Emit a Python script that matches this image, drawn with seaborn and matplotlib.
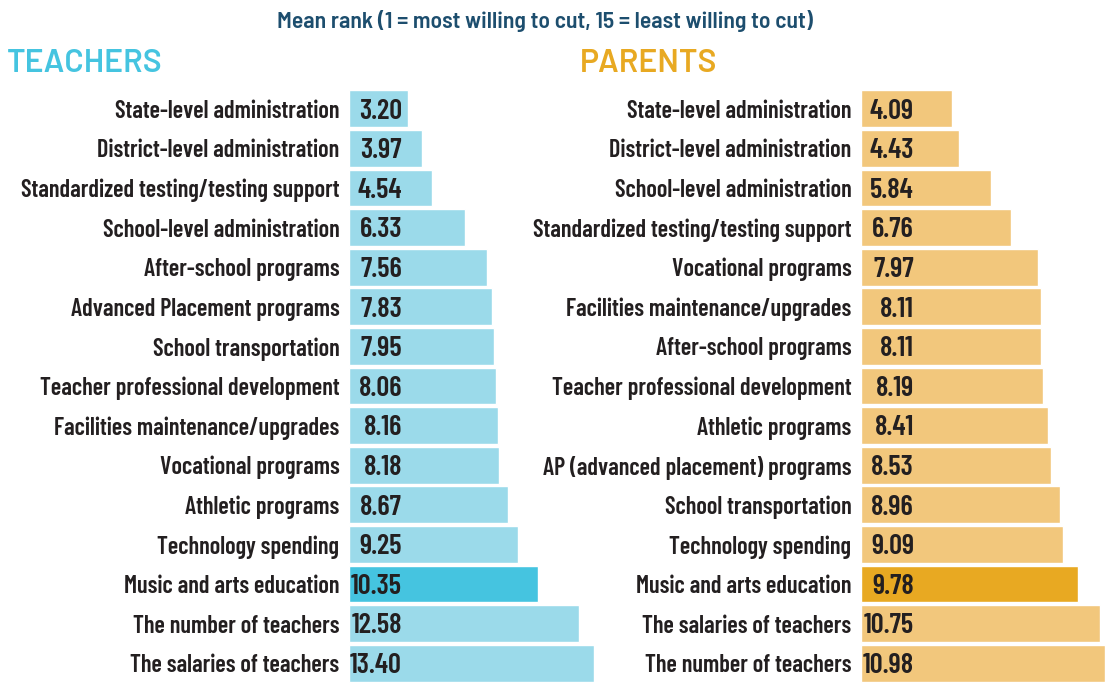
import matplotlib
matplotlib.use("Agg")
import matplotlib.pyplot as plt
import seaborn as sns
import pandas as pd

# Data
teacher_cats = [
    "State-level administration", "District-level administration",
    "Standardized testing/testing support", "School-level administration",
    "After-school programs", "Advanced Placement programs",
    "School transportation", "Teacher professional development",
    "Facilities maintenance/upgrades", "Vocational programs",
    "Athletic programs", "Technology spending", "Music and arts education",
    "The number of teachers", "The salaries of teachers",
]
teacher_vals = [3.20, 3.97, 4.54, 6.33, 7.56, 7.83, 7.95, 8.06, 8.16, 8.18,
                8.67, 9.25, 10.35, 12.58, 13.40]

parent_cats = [
    "State-level administration", "District-level administration",
    "School-level administration", "Standardized testing/testing support",
    "Vocational programs", "Facilities maintenance/upgrades",
    "After-school programs", "Teacher professional development",
    "Athletic programs", "AP (advanced placement) programs",
    "School transportation", "Technology spending", "Music and arts education",
    "The salaries of teachers", "The number of teachers",
]
parent_vals = [4.09, 4.43, 5.84, 6.76, 7.97, 8.11, 8.11, 8.19, 8.41, 8.53,
               8.96, 9.09, 9.78, 10.75, 10.98]

highlight = "Music and arts education"

sns.set_theme(style="white")
plt.rcParams["font.family"] = ["Barlow Condensed", "DejaVu Sans"]

W, H = 1105, 683
fig = plt.figure(figsize=(W / 100, H / 100), dpi=100)

text_col = "#231f20"

panels = [
    (teacher_cats, teacher_vals, 349, 594, "#9bdaea", "#45c4e0"),
    (parent_cats, parent_vals, 861, 1105, "#f2c77c", "#e8a922"),
]

for cats, vals, x0, x1, light, dark in panels:
    ax = fig.add_axes([x0 / W, 0, (x1 - x0) / W, 1 - 89 / H])
    df = pd.DataFrame({"cat": cats, "val": vals})
    df["hl"] = ["hi" if c == highlight else "lo" for c in cats]
    sns.barplot(data=df, x="val", y="cat", hue="hl", orient="h",
                palette={"hi": dark, "lo": light}, width=0.93,
                dodge=False, legend=False, ax=ax, saturation=1)
    ax.set_xlim(0, max(vals))
    ax.set_ylim(len(cats) - 0.5, -0.5)
    ax.set_xlabel("")
    ax.set_ylabel("")
    ax.set_xticks([])
    ax.tick_params(axis="y", length=0, pad=7)
    for lab in ax.get_yticklabels():
        lab.set_fontsize(17.5)
        lab.set_fontweight("semibold")
        lab.set_color(text_col)
    sns.despine(ax=ax, left=True, bottom=True)
    # value labels right-aligned in a fixed slot at the bar start
    scale = max(vals) / (x1 - x0)
    for i, v in enumerate(vals):
        ax.text(53 * scale, i + 0.06, f"{v:.2f}", ha="right", va="center",
                fontsize=20.5, fontweight="semibold", color=text_col)

fig.text(545 / W, 1 - 21 / H,
         "Mean rank (1 = most willing to cut, 15 = least willing to cut)",
         ha="center", va="center", fontsize=17, fontweight="semibold",
         color="#1d4e6e",
         family=["Barlow Semi Condensed", "Barlow Condensed", "DejaVu Sans"])
fig.text(7 / W, 1 - 64 / H, "TEACHERS", ha="left", va="center",
         fontsize=23, fontweight="semibold", color="#45c4e0",
         family=["Barlow", "Barlow Condensed", "DejaVu Sans"])
fig.text(580 / W, 1 - 64 / H, "PARENTS", ha="left", va="center",
         fontsize=23, fontweight="semibold", color="#e8a922",
         family=["Barlow", "Barlow Condensed", "DejaVu Sans"])

fig.savefig("out.png", dpi=100)
